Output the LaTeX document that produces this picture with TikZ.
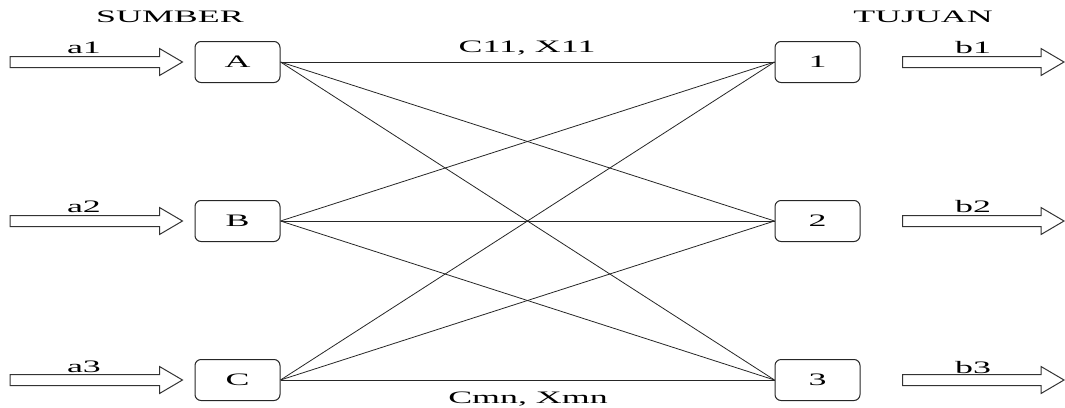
\documentclass[tikz,border=0pt]{standalone}
\usepackage{fontspec}
\setmainfont{Liberation Serif}[FakeStretch=2.05]
\usetikzlibrary{calc}
\newcommand\blockarrow[2]{%
  \draw[barr] let \p1=(#1), \p2=(#2) in
    (\x1,\y1+5.5pt) -- (\x2-23pt,\y1+5.5pt) -- (\x2-23pt,\y1+13.5pt) -- (\x2,\y1)
    -- (\x2-23pt,\y1-13.5pt) -- (\x2-23pt,\y1-5.5pt) -- (\x1,\y1-5.5pt) -- cycle;}
\begin{document}
\begin{tikzpicture}[x=1pt,y=-1pt,
  txt/.style={font=\fontsize{17.5}{20}\selectfont, inner sep=0pt, text=black},
  box/.style={txt, draw=black!85, line width=1pt, rounded corners=6pt,
    minimum width=85pt, minimum height=41pt},
  link/.style={draw=black!85, line width=0.8pt},
  barr/.style={draw=black!80, line width=1pt}]
\useasboundingbox (0,0) rectangle (1065,407);
% boxes
\node[box] (A) at (237.5,62) {A};
\node[box] (B) at (237.5,221) {B};
\node[box] (C) at (237.5,380) {C};
\node[box] (n1) at (817.5,62) {1};
\node[box] (n2) at (817.5,221) {2};
\node[box] (n3) at (817.5,380) {3};
% links
\foreach \s in {A,B,C}{
  \foreach \t in {n1,n2,n3}{
    \draw[link] (\s.east) -- (\t.west);
  }
}
% headings
\node[txt, anchor=base] (sumber) at (170,22) {SUMBER};
\node[txt, anchor=base] (tujuan) at (923,22) {TUJUAN};
\node[txt, anchor=base] (c11) at (527,52) {C11, X11};
\node[txt, anchor=base] (cmn) at (528,403) {Cmn, Xmn};
% input arrows
\coordinate (a1s) at (10,62);
\coordinate (a2s) at (10,221);
\coordinate (a3s) at (10,380);
\coordinate (a1e) at ($(A.west)+(-12,0)$);
\coordinate (a2e) at ($(B.west)+(-12,0)$);
\coordinate (a3e) at ($(C.west)+(-12,0)$);
\blockarrow{a1s}{a1e}
\blockarrow{a2s}{a2e}
\blockarrow{a3s}{a3e}
\node[txt, anchor=base] (la1) at (84,53) {a1};
\node[txt, anchor=base] (la2) at (84,212) {a2};
\node[txt, anchor=base] (la3) at (84,372) {a3};
% output arrows
\coordinate (b1s) at ($(n1.east)+(42,0)$);
\coordinate (b2s) at ($(n2.east)+(42,0)$);
\coordinate (b3s) at ($(n3.east)+(42,0)$);
\coordinate (b1e) at (1064,62);
\coordinate (b2e) at (1064,221);
\coordinate (b3e) at (1064,380);
\blockarrow{b1s}{b1e}
\blockarrow{b2s}{b2e}
\blockarrow{b3s}{b3e}
\node[txt, anchor=base] (lb1) at (973,53) {b1};
\node[txt, anchor=base] (lb2) at (973,212) {b2};
\node[txt, anchor=base] (lb3) at (973,373) {b3};
\end{tikzpicture}
\end{document}
